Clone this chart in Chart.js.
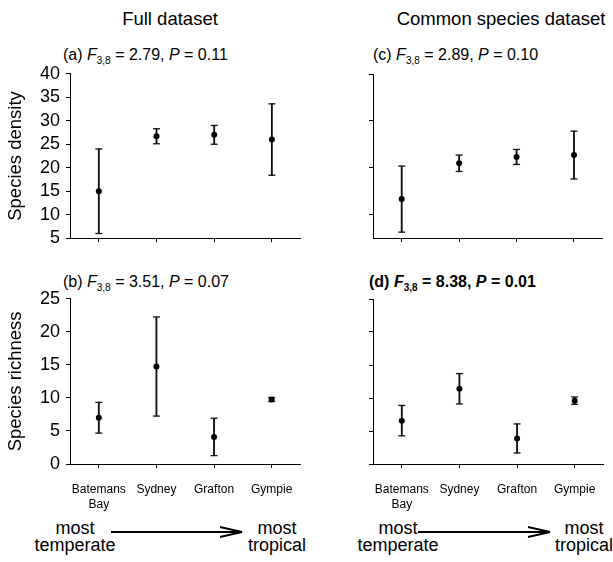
<!DOCTYPE html>
<html>
<head>
<meta charset="utf-8">
<script src="https://cdn.jsdelivr.net/npm/chart.js@4.4.1/dist/chart.umd.min.js"></script>
<style>
  html, body { margin: 0; padding: 0; background: #fff; }
  body { width: 613px; height: 562px; position: relative; overflow: hidden;
         font-family: "Liberation Sans", Arial, sans-serif; color: #000; }
  canvas { position: absolute; }
  .txt { position: absolute; white-space: nowrap; }
  .head { font-size: 18.5px; line-height: 18px; text-align: center; width: 240px; }
  .stat { font-size: 16px; line-height: 16px; }
  .stat sub { font-size: 10px; vertical-align: -4px; line-height: 0; }
  .end { font-size: 18px; line-height: 17px; text-align: center; width: 100px; }
  svg { position: absolute; left: 0; top: 0; }
</style>
</head>
<body>
<div class="txt head" style="left:50px; top:10px;">Full dataset</div>
<div class="txt head" style="left:381px; top:10px;">Common species dataset</div>

<div class="txt stat" style="left:63px; top:47px;">(a) <i>F</i><sub>3,8</sub> = 2.79, <i>P</i> = 0.11</div>
<div class="txt stat" style="left:373px; top:47px;">(c) <i>F</i><sub>3,8</sub> = 2.89, <i>P</i> = 0.10</div>
<div class="txt stat" style="left:63px; top:274px;">(b) <i>F</i><sub>3,8</sub> = 3.51, <i>P</i> = 0.07</div>
<div class="txt stat" style="left:369px; top:274px; font-weight:bold;">(d) <i>F</i><sub>3,8</sub> = 8.38, <i>P</i> = 0.01</div>

<canvas id="cA" width="302" height="180" style="left:0px; top:64px;"></canvas>
<canvas id="cC" width="302" height="180" style="left:303px; top:64px;"></canvas>
<canvas id="cB" width="302" height="225" style="left:0px; top:289px;"></canvas>
<canvas id="cD" width="302" height="225" style="left:303px; top:289px;"></canvas>

<div class="txt end" style="left:25px; top:520px;">most<br>temperate</div>
<div class="txt end" style="left:227px; top:520px;">most<br>tropical</div>
<div class="txt end" style="left:348px; top:520px;">most<br>temperate</div>
<div class="txt end" style="left:534px; top:520px;">most<br>tropical</div>

<svg width="613" height="562">
  <g stroke="#000" stroke-width="1.8" fill="none">
    <line x1="111" y1="532" x2="242" y2="532"/>
    <polyline points="220,527 242,532 220,537"/>
    <line x1="418" y1="532" x2="550" y2="532"/>
    <polyline points="528,527 550,532 528,537"/>
  </g>
</svg>

<script>
// Sites ordered from most temperate to most tropical
const sites = [["Batemans", "Bay"], "Sydney", "Grafton", "Gympie"];

// Full dataset: mean and error (+/-) per site
const fullDensityMean = [15.0, 26.7, 27.0, 26.0];
const fullDensityErr  = [9.0, 1.6, 2.0, 7.6];
const fullRichMean    = [7.0, 14.75, 4.1, 9.76];
const fullRichErr     = [2.33, 7.5, 2.83, 0.3];

// Common species dataset: mean and error (+/-) per site
const commonDensityMean = [13.3, 20.95, 22.3, 22.7];
const commonDensityErr  = [7.05, 1.75, 1.6, 5.1];
const commonRichMean    = [6.57, 11.4, 3.87, 9.6];
const commonRichErr     = [2.3, 2.3, 2.2, 0.55];

// Y-axis ranges and tick steps
const densityRange = { min: 5, max: 40, step: 5 };
const richRange    = { min: 0, max: 25, step: 5 };

Chart.defaults.font.family = '"Liberation Sans", Arial, sans-serif';
Chart.defaults.color = '#000';

function errorBarChart(id, mean, err, opts) {
  const lo = mean.map((m, i) => m - err[i]);
  const hi = mean.map((m, i) => m + err[i]);
  const whisker = mean.map((m, i) => [lo[i], hi[i]]);
  const axisGrid = { display: true, drawOnChartArea: false, drawTicks: true,
                     tickLength: 4, color: '#000', lineWidth: 1, offset: false };
  return new Chart(document.getElementById(id), {
    type: 'bar',
    data: {
      labels: sites,
      datasets: [
        { type: 'bar', data: whisker, backgroundColor: '#111', borderWidth: 0,
          barThickness: 1.2, grouped: false, order: 3 },
        { type: 'line', data: hi, showLine: false, pointStyle: 'line', pointRadius: 3.5,
          borderColor: '#111', borderWidth: 1.3, clip: false, order: 2 },
        { type: 'line', data: lo, showLine: false, pointStyle: 'line', pointRadius: 3.5,
          borderColor: '#111', borderWidth: 1.3, clip: false, order: 2 },
        { type: 'line', data: mean, showLine: false, pointStyle: 'circle', pointRadius: 3,
          backgroundColor: '#000', borderColor: '#000', borderWidth: 0, clip: false, order: 1 }
      ]
    },
    options: {
      responsive: false,
      maintainAspectRatio: false,
      devicePixelRatio: 1,
      animation: false,
      events: [],
      layout: { padding: { top: 10, right: 2, left: 0, bottom: 0 } },
      plugins: { legend: { display: false }, tooltip: { enabled: false } },
      scales: {
        x: {
          offset: true,
          grid: axisGrid,
          border: { display: true, color: '#000', width: 1 },
          ticks: { display: opts.xLabels, font: { size: 12, lineHeight: 1.25 },
                   padding: 14, maxRotation: 0, autoSkip: false },
          afterFit: s => { s.height = opts.xHeight; }
        },
        y: {
          min: opts.range.min, max: opts.range.max,
          grid: axisGrid,
          border: { display: true, color: '#000', width: 1 },
          ticks: { display: opts.yLabels, stepSize: opts.range.step, autoSkip: false,
                   font: { size: 18 }, padding: 6 },
          afterBuildTicks: s => {
            if (opts.tickEvery) s.ticks = s.ticks.filter(t => t.value % opts.tickEvery === 0);
          },
          title: { display: !!opts.yTitle, text: opts.yTitle || '',
                   font: { size: 18.5 }, padding: { top: 5, bottom: 0 } },
          afterFit: s => { s.width = 70; }
        }
      }
    }
  });
}

// Size and place each canvas so its plot area spans the given page box
function placePlot(chart, box) {
  for (let k = 0; k < 4; k++) {
    const ca = chart.chartArea;
    const w = Math.round(chart.width + (box.right - box.left) - (ca.right - ca.left));
    const h = Math.round(chart.height + (box.bottom - box.top) - (ca.bottom - ca.top));
    if (w === chart.width && h === chart.height) break;
    chart.resize(w, h);
  }
  const ca = chart.chartArea;
  chart.canvas.style.left = (box.left - ca.left) + 'px';
  chart.canvas.style.top = (box.top - ca.top) + 'px';
}

const chartA = errorBarChart('cA', fullDensityMean, fullDensityErr,
  { range: densityRange, yLabels: true, yTitle: 'Species density', xLabels: false, xHeight: 6 });
const chartC = errorBarChart('cC', commonDensityMean, commonDensityErr,
  { range: { min: 5, max: 40, step: 10 }, tickEvery: 10, yLabels: false, xLabels: false, xHeight: 6 });
const chartB = errorBarChart('cB', fullRichMean, fullRichErr,
  { range: richRange, yLabels: true, yTitle: 'Species richness', xLabels: true, xHeight: 50 });
const chartD = errorBarChart('cD', commonRichMean, commonRichErr,
  { range: richRange, yLabels: false, xLabels: true, xHeight: 50 });

placePlot(chartA, { left: 70, right: 301, top: 74, bottom: 238 });
placePlot(chartC, { left: 373, right: 603, top: 74, bottom: 238 });
placePlot(chartB, { left: 70, right: 301, top: 299, bottom: 464 });
placePlot(chartD, { left: 373, right: 603, top: 299, bottom: 464 });
</script>
</body>
</html>
